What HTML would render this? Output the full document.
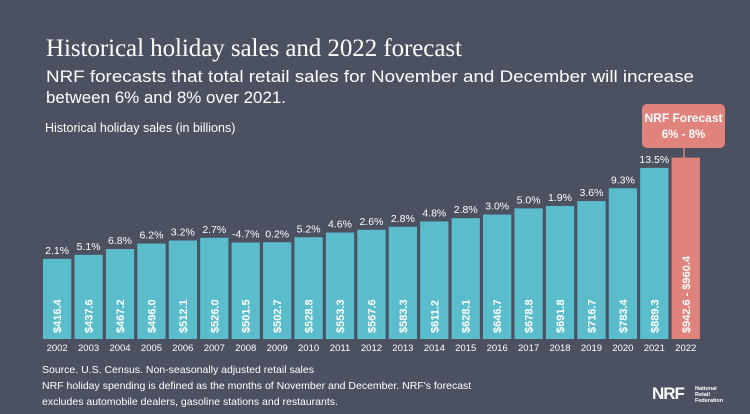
<!DOCTYPE html>
<html><head><meta charset="utf-8"><style>
body{margin:0;background:#4b5160;}
svg{display:block;font-family:"Liberation Sans",sans-serif;}
</style></head><body>
<svg id="chart" width="750" height="414" viewBox="0 0 750 414" xmlns="http://www.w3.org/2000/svg">
<rect width="750" height="414" fill="#4b5160"/>
<text x="46" y="56" font-family="Liberation Serif, serif" font-size="25" fill="#ffffff" textLength="416">Historical holiday sales and 2022 forecast</text>
<text x="46" y="82" font-size="16.5" fill="#ffffff" textLength="648" lengthAdjust="spacingAndGlyphs">NRF forecasts that total retail sales for November and December will increase</text>
<text x="46" y="103" font-size="16.5" fill="#ffffff" textLength="240" lengthAdjust="spacingAndGlyphs">between 6% and 8% over 2021.</text>
<text x="45" y="132" font-size="12.5" fill="#ffffff">Historical holiday sales (in billions)</text>
<g id="bars"></g>
<g>
<line x1="684" y1="148" x2="684" y2="158" stroke="#e0837c" stroke-width="1.5"/>
<rect x="642" y="104" width="83" height="44" rx="5" fill="#e0837c"/>
<text x="683.5" y="122" font-size="12" font-weight="bold" fill="#fff" text-anchor="middle">NRF Forecast</text>
<text x="683.5" y="138" font-size="11.5" font-weight="bold" fill="#fff" text-anchor="middle">6% - 8%</text>
</g>
<text x="42" y="373" font-size="10.5" fill="#ffffff">Source. U.S. Census. Non-seasonally adjusted retail sales</text>
<text x="42" y="389" font-size="10.5" fill="#ffffff">NRF holiday spending is defined as the months of November and December. NRF's forecast</text>
<text x="42" y="405" font-size="10.5" fill="#ffffff">excludes automobile dealers, gasoline stations and restaurants.</text>
<g>
<text x="652" y="399" font-size="17" font-weight="bold" fill="#fff" letter-spacing="-1">NRF</text>
<text x="695" y="390" font-size="5.5" font-weight="bold" fill="#fff">National</text>
<text x="695" y="396" font-size="5.5" font-weight="bold" fill="#fff">Retail</text>
<text x="695" y="402" font-size="5.5" font-weight="bold" fill="#fff">Federation</text>
</g>
</svg>
<script>
const years=["2002","2003","2004","2005","2006","2007","2008","2009","2010","2011","2012","2013","2014","2015","2016","2017","2018","2019","2020","2021","2022"];
const sales=[416.4,437.6,467.2,496.0,512.1,526.0,501.5,502.7,528.8,553.3,567.6,583.3,611.2,628.1,646.7,678.8,691.8,716.7,783.4,889.3,942.6];
const growth=["2.1%","5.1%","6.8%","6.2%","3.2%","2.7%","-4.7%","0.2%","5.2%","4.6%","2.6%","2.8%","4.8%","2.8%","3.0%","5.0%","1.9%","3.6%","9.3%","13.5%",""];
const valueLabels=["$416.4","$437.6","$467.2","$496.0","$512.1","$526.0","$501.5","$502.7","$528.8","$553.3","$567.6","$583.3","$611.2","$628.1","$646.7","$678.8","$691.8","$716.7","$783.4","$889.3","$942.6 - $960.4"];
const NS="http://www.w3.org/2000/svg";
const baseY=339,x0=43,step=31.43,bw=28.3,k=0.1924;
const xS=i=>x0+i*step;
const yS=v=>baseY-v*k;
const g=document.getElementById('bars');
function mk(t,a){const e=document.createElementNS(NS,t);for(const n in a)e.setAttribute(n,a[n]);return e;}
years.forEach((yr,i)=>{
  const x=xS(i),y=yS(sales[i]),fc=i===years.length-1;
  const r=mk('rect',{x:x,y:y,width:bw,height:baseY-y,fill:fc?'#e0837c':'#5bbdcc'});
  
  
  g.appendChild(r);
  const cx=x+bw/2;
  if(growth[i]){
    const p=mk('text',{x:cx,y:y-5,'font-size':'10.5',fill:'#fff','text-anchor':'middle'});
    p.textContent=growth[i];
    
    
    g.appendChild(p);
  }
  const v=mk('text',{x:0,y:0,'font-size':'11','font-weight':'bold',fill:'#fff',transform:`translate(${cx+4},${baseY-6}) rotate(-90)`});
  v.textContent=valueLabels[i];
  
  
  g.appendChild(v);
  const t=mk('text',{x:cx,y:baseY+12,'font-size':'9.5',fill:'#fff','text-anchor':'middle'});
  t.textContent=yr;
  
  
  g.appendChild(t);
});
</script>
</body></html>
